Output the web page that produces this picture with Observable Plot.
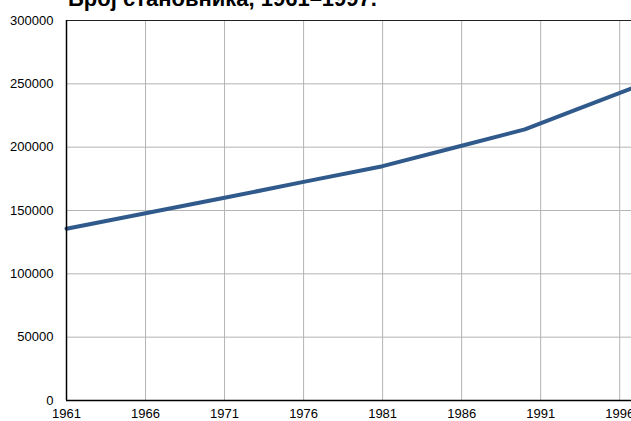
<!DOCTYPE html>
<html>
<head>
<meta charset="utf-8">
<script src="https://cdn.jsdelivr.net/npm/d3@7"></script>
<script src="https://cdn.jsdelivr.net/npm/@observablehq/plot@0.6"></script>
<style>
  html, body { margin: 0; padding: 0; overflow: hidden; width: 631px; height: 421px; background: #fff; }
  #wrap { position: relative; width: 631px; height: 421px; overflow: hidden; }
  #title { position: absolute; left: 68px; top: -14px; font: bold 22px/25px "Liberation Sans", Arial, sans-serif; color: #000; white-space: nowrap; }
  #chart { position: absolute; left: 0; top: 0; width: 640px; }
  #chart svg { max-width: none !important; }
</style>
</head>
<body>
<div id="wrap">
  <div id="chart"></div>
  <div id="title">Број становника, 1961–1997.</div>
</div>
<script>
const title = "Број становника, 1961–1997.";
const years = [1961, 1966, 1971, 1976, 1981, 1986, 1990, 1993, 1997];
const population = [135600, 147800, 160000, 172600, 185000, 201100, 214000, 228500, 247500];
const xTicks = [1961, 1966, 1971, 1976, 1981, 1986, 1991, 1996];
const yTicks = [0, 50000, 100000, 150000, 200000, 250000, 300000];

const data = years.map((y, i) => ({year: y, pop: population[i]}));

const chart = Plot.plot({
  width: 640,
  height: 421,
  marginLeft: 66,
  marginRight: 5,
  marginTop: 20,
  marginBottom: 21,
  style: {fontFamily: '"Liberation Sans", Arial, sans-serif', fontSize: "13px", background: "#fff", color: "#000", maxWidth: "none"},
  x: {domain: [1961, 1997], ticks: xTicks, tickFormat: d => String(d), label: null},
  y: {domain: [0, 300000], ticks: yTicks, tickFormat: d => String(d), label: null},
  marks: [
    Plot.gridX(xTicks, {stroke: "#b4b4b4", strokeOpacity: 1, strokeWidth: 1}),
    Plot.gridY(yTicks, {stroke: "#b4b4b4", strokeOpacity: 1, strokeWidth: 1}),
    Plot.ruleY([300000], {stroke: "#222", strokeWidth: 1}),
    Plot.axisX(xTicks, {tickSize: 0, tickPadding: 8, fontSize: 13, tickFormat: d => String(d)}),
    Plot.axisY(yTicks, {tickSize: 0, tickPadding: 13, fontSize: 13, tickFormat: d => String(d)}),
    Plot.line(data, {x: "year", y: "pop", stroke: "#305a8b", strokeWidth: 4, strokeLinejoin: "round"}),
    Plot.ruleX([1961], {stroke: "#000", strokeWidth: 1.5}),
    Plot.ruleY([0], {stroke: "#000", strokeWidth: 1.5})
  ]
});
document.getElementById("chart").appendChild(chart);
</script>
</body>
</html>
